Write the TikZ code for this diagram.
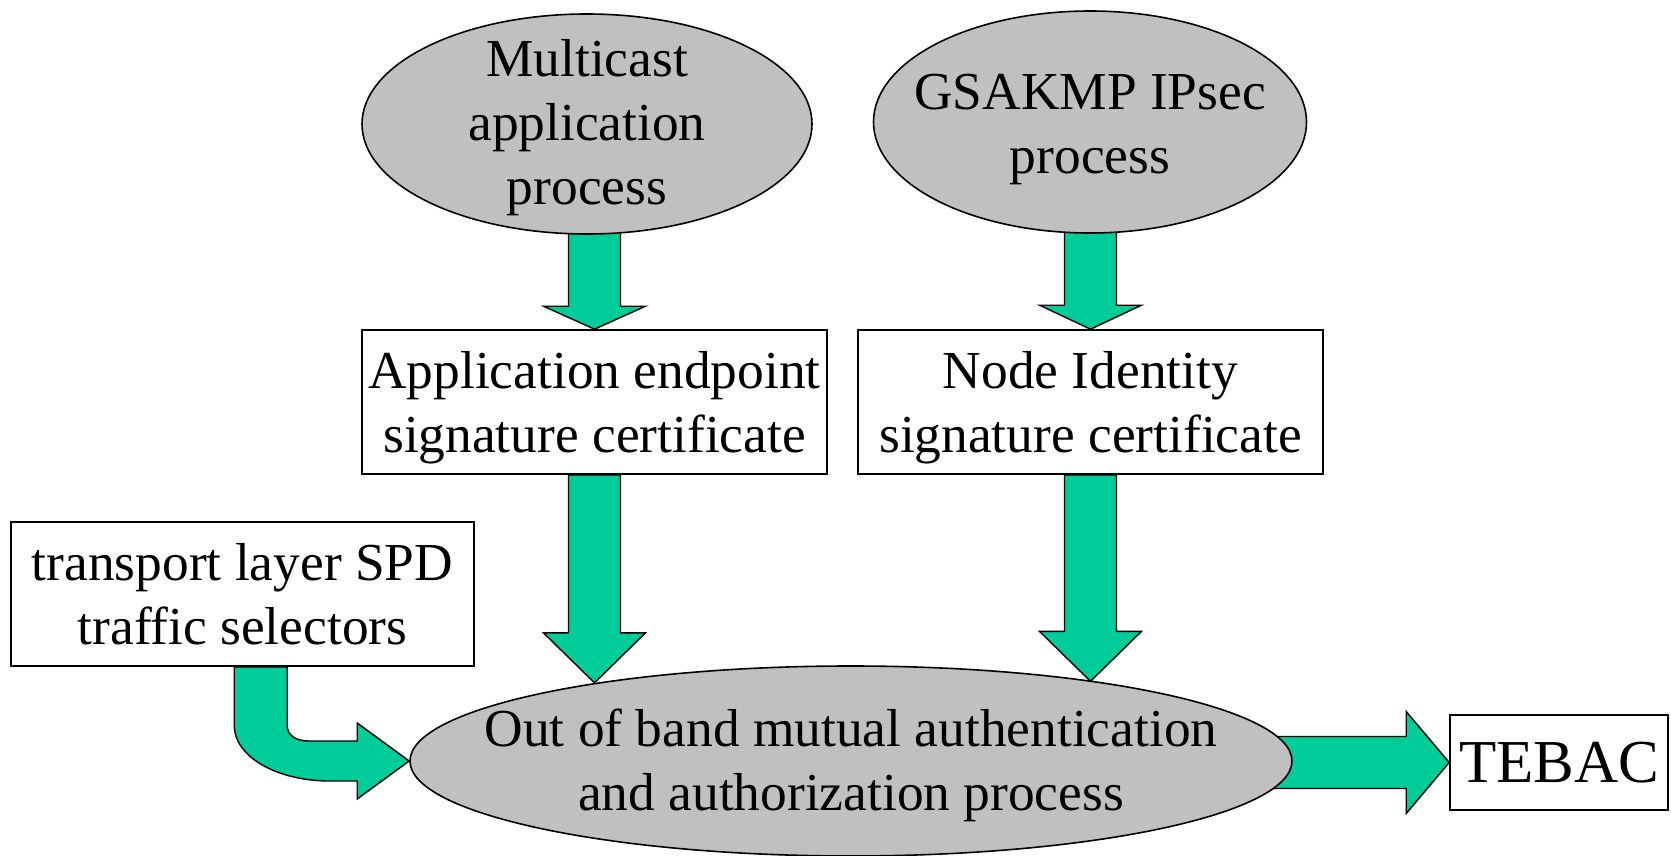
\documentclass[tikz,border=0pt]{standalone}
\usepackage{fontspec}
\setmainfont{Liberation Serif}
\usetikzlibrary{shapes.geometric,calc,backgrounds}

\definecolor{arrowgreen}{HTML}{00CC99}
\definecolor{procgray}{HTML}{C0C0C0}

\tikzset{
	proc/.style={ellipse, draw, fill=procgray, line width=0.8pt, inner sep=0pt},
	proctext/.style={align=center, inner sep=0pt},
	cert/.style={rectangle, draw, fill=white, line width=0.8pt, inner sep=0pt, align=center},
	fatarrow/.style={draw, fill=arrowgreen, line width=0.7pt, line join=miter}
}

% block arrow pointing down: start, tip, head length
\newcommand{\fatdown}[3]{%
	\draw[fatarrow] let \p1=(#1), \p2=(#2) in
		(\x1-13pt,\y1) -- (\x1-13pt,\y2+#3) -- (\x1-25.5pt,\y2+#3) -- (\x1,\y2)
		-- (\x1+25.5pt,\y2+#3) -- (\x1+13pt,\y2+#3) -- (\x1+13pt,\y1) -- cycle;}
% block arrow pointing right: start, tip, head length
\newcommand{\fatright}[3]{%
	\draw[fatarrow] let \p1=(#1), \p2=(#2) in
		(\x1,\y2+13pt) -- (\x2-#3,\y2+13pt) -- (\x2-#3,\y2+25.5pt) -- (\x2,\y2)
		-- (\x2-#3,\y2-25.5pt) -- (\x2-#3,\y2-13pt) -- (\x1,\y2-13pt) -- cycle;}

\begin{document}
\begin{tikzpicture}[x=0.5pt, y=-0.5pt, every node/.style={font=\fontsize{26.7}{32}\selectfont}]

	\useasboundingbox (0,0) rectangle (1671,856);

	\node[proc, minimum width=225pt, minimum height=110pt] (mcast) at (587,124) {};
	\node[proctext] (mcast-text) at (587,128) {Multicast\\application\\process};
	\node[proc, minimum width=216.5pt, minimum height=111pt] (gsakmp) at (1090,122) {};
	\node[proctext] (gsakmp-text) at (1090,130) {GSAKMP IPsec\\process};

	\node[cert, minimum width=232.5pt, minimum height=72pt, text height=56.5pt] (appcert) at (594.5,402) {Application endpoint\\signature certificate};
	\node[cert, minimum width=232.5pt, minimum height=72pt, text height=56.5pt] (nodecert) at (1090.5,402) {Node Identity\\signature certificate};
	\node[cert, minimum width=231.5pt, minimum height=72pt] (spd) at (242.5,594) {transport layer SPD\\traffic selectors};

	\node[proc, minimum width=441pt, minimum height=95pt] (oob) at (851,761) {};
	\node[proctext] (oob-text) at (851,765) {Out of band mutual authentication\\and authorization process};
	\node[cert, minimum width=109pt, minimum height=47.5pt, font=\fontsize{30.5}{36}\selectfont] (tebac) at (1559,762.5) {TEBAC};

	\begin{pgfonlayer}{background}
		\fatdown{appcert.north |- mcast.center}{appcert.north}{11.5pt}
		\fatdown{nodecert.north |- gsakmp.center}{nodecert.north}{12pt}
		\fatdown{appcert.south}{oob.163}{25pt}
		\fatdown{nodecert.south}{oob.18}{25pt}
		\fatright{oob.center}{tebac.west}{21.5pt}

		% bent arrow from the selectors
		\draw[fatarrow] let \p1=(spd.south), \p2=(oob.west) in
			(\x2-87.5pt,\y1) -- (\x2-87.5pt,\y2+18pt)
			.. controls (\x2-87.5pt,\y2+1.5pt) and (\x2-65pt,\y2-10pt) .. (\x2-40pt,\y2-10pt)
			-- (\x2-26pt,\y2-10pt) -- (\x2-26pt,\y2-19pt) -- (\x2,\y2)
			-- (\x2-26pt,\y2+19pt) -- (\x2-26pt,\y2+10pt) -- (\x2-50pt,\y2+10pt)
			.. controls (\x2-57pt,\y2+10pt) and (\x2-61pt,\y2+13pt) .. (\x2-61pt,\y2+18pt)
			-- (\x2-61pt,\y1) -- cycle;
	\end{pgfonlayer}
\end{tikzpicture}
\end{document}
